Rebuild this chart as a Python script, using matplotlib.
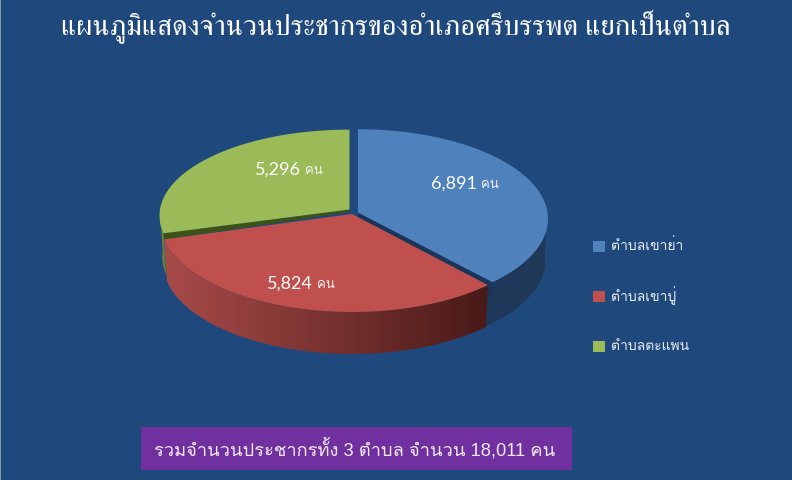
import numpy as np
import matplotlib
matplotlib.use("Agg")
import matplotlib.pyplot as plt
from matplotlib.patches import Polygon, Rectangle

# --- ข้อมูล ---
title = "แผนภูมิแสดงจำนวนประชากรของอำเภอศรีบรรพต แยกเป็นตำบล"
tambon = ["ตำบลเขาย่า", "ตำบลเขาปู่", "ตำบลตะแพน"]
population = [6891, 5824, 5296]
unit = "คน"
summary = "รวมจำนวนประชากรทั้ง 3 ตำบล จำนวน 18,011 คน"

# --- สไตล์ ---
bg = "#1f497d"
top_colors = ["#4f81bd", "#c0504d", "#9bbb59"]
wall_left = ["#1e3759", "#a84b49", "#7f9a45"]
wall_right = ["#213a5a", "#491a18", "#5a7030"]
radial_colors = ["#1a3559", "#7a2f2d", "#3d5216"]
apex = [(358, 213.5), (352, 215), (349.5, 210.5)]
back_scale = [0.98, 1.0, 0.94]
side_scale = [1.0, 1.01, 1.0]
RX, RY, P, DEPTH = 189.5, 91.0, 0.071, 42

thai_sans = ["Liberation Sans", "Loma"]
thai_serif = ["Liberation Serif", "FreeSerif"]


def project(i, deg):
    # มุมวัดตามเข็มจากด้านหลัง มีเปอร์สเปกทีฟเล็กน้อย
    t = np.radians(deg)
    u, v = np.sin(t), -np.cos(t)
    d = 1 - P * v
    return apex[i][0] + RX * side_scale[i] * u / d, apex[i][1] + RY * back_scale[i] * v / d


def gradient_patch(ax, pts, c0, c1):
    xs, ys = zip(*pts)
    rgb0 = np.array(matplotlib.colors.to_rgb(c0))
    rgb1 = np.array(matplotlib.colors.to_rgb(c1))
    w = np.linspace(0, 1, 256)[None, :, None]
    img = rgb0 * (1 - w) + rgb1 * w
    im = ax.imshow(img, extent=(min(xs), max(xs), max(ys), min(ys)), aspect="auto", zorder=ax_z[0])
    poly = Polygon(pts, closed=True, fc="none", ec="none", transform=ax.transData)
    ax.add_patch(poly)
    im.set_clip_path(poly)
    ax_z[0] += 1


fig = plt.figure(figsize=(7.92, 4.81), dpi=100, facecolor=bg)
ax = fig.add_axes([0, 0, 1, 1])
ax.set_facecolor(bg)
ax_z = [2]

shares = np.array(population) / sum(population) * 360
starts = np.concatenate(([0], np.cumsum(shares)[:-1]))
ends = starts + shares


def wall(i):
    # ผนังโค้งด้านหน้าของแต่ละชิ้น (เฉพาะช่วงที่หันเข้าหาคนดู)
    a0, a1 = starts[i], ends[i]
    if i == 0:
        a0, a1 = 90, ends[i] + 10  # เลยเข้าไปหลังชิ้นสีแดง กันช่องว่าง
    if i == 2:
        a1 = 270
    ang = np.linspace(a0, a1, 120)
    top = [project(i, a) for a in ang]
    cx = apex[i][0]
    bot = [(cx + (x - cx) * 0.985, y + DEPTH) for x, y in top]
    gradient_patch(ax, top + bot[::-1], wall_left[i], wall_right[i])


def radial(i, a, d=4):
    # ผนังตัดตามรัศมี เห็นเป็นแถบเข้มใต้ขอบชิ้น
    p = project(i, a)
    pts = [apex[i], p, (p[0], p[1] + d * 2.5), (apex[i][0], apex[i][1] + d)]
    ax_z[0] += 1
    ax.add_patch(Polygon(pts, closed=True, fc=radial_colors[i], ec="none", zorder=ax_z[0]))


def top_face(i):
    ang = np.linspace(starts[i], ends[i], 200)
    pts = [apex[i]] + [project(i, a) for a in ang]
    ax_z[0] += 1
    ax.add_patch(Polygon(pts, closed=True, fc=top_colors[i], ec="none", zorder=ax_z[0]))


# วาดจากหลังมาหน้า: น้ำเงิน เขียว แล้วแดง
wall(0)
radial(0, ends[0], 5)
top_face(0)
wall(2)
radial(2, starts[2], 2.5)
top_face(2)
wall(1)
top_face(1)

# ป้ายค่า
label_pos = [(454, 184), (290, 284), (278, 170)]
unit_pos = [(489.5, 185), (325.5, 285), (314, 171)]
for v, p, q in zip(population, label_pos, unit_pos):
    ax.text(p[0], p[1], f"{v:,}", color="white", fontsize=13, family="Lato",
            ha="center", va="center", zorder=50)
    ax.text(q[0], q[1], unit, color="#f2f2f2", fontsize=9.5, family=thai_sans,
            ha="center", va="center", zorder=50)

# legend
legend_y = [247, 297, 347]
for name, c, y in zip(tambon, top_colors, legend_y):
    ax.add_patch(Rectangle((593, y - 5.5), 12, 11, fc=c, ec="none", zorder=50))
    ax.text(611, y - 1, name, color="#e6edf5", fontsize=10, family=thai_sans,
            ha="left", va="center", zorder=50)

# ชื่อแผนภูมิและกล่องสรุป
ax.text(396, 27, title, color="white", fontsize=20.9, family=thai_serif,
        ha="center", va="center", zorder=50)
ax.add_patch(Rectangle((141, 428), 431, 43, fc="#7030a0", ec="none", zorder=50))
ax.text(355, 449, summary, color="#f0e8f5", fontsize=13.2, family=thai_sans,
        ha="center", va="center", zorder=51)

# เส้นขอบซ้ายของภาพ
ax.add_patch(Rectangle((0, 0), 1, 481, fc="#8a9ab0", ec="none", zorder=60))

ax.set_xlim(0, 792)
ax.set_ylim(481, 0)
ax.axis("off")
fig.savefig("out.png", dpi=100, facecolor=bg)
